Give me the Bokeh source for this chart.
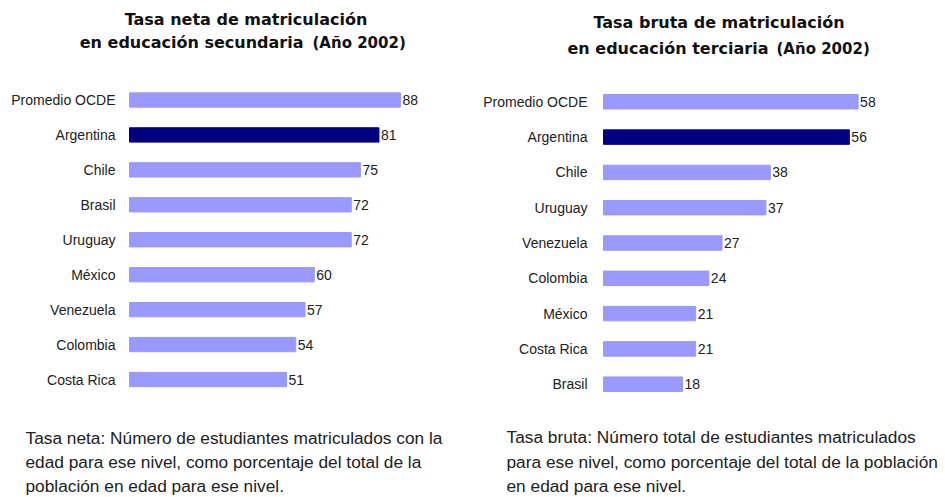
from bokeh.plotting import figure
from bokeh.models import Range1d, Label, ColumnDataSource
from bokeh.layouts import row
from bokeh.core.properties import value
from bokeh.embed import file_html
from bokeh.resources import INLINE

# ---- data ----
countries_sec = ["Promedio OCDE", "Argentina", "Chile", "Brasil", "Uruguay",
                 "México", "Venezuela", "Colombia", "Costa Rica"]
values_sec = [88, 81, 75, 72, 72, 60, 57, 54, 51]

countries_ter = ["Promedio OCDE", "Argentina", "Chile", "Uruguay", "Venezuela",
                 "Colombia", "México", "Costa Rica", "Brasil"]
values_ter = [58, 56, 38, 37, 27, 24, 21, 21, 18]

highlight = "Argentina"

title_sec = ["Tasa neta de matriculación", "en educación secundaria", "(Año 2002)"]
title_ter = ["Tasa bruta de matriculación", "en educación terciaria", "(Año 2002)"]

note_sec = ["Tasa neta: Número de estudiantes matriculados con la",
            "edad para ese nivel, como porcentaje del total de la",
            "población en edad para ese nivel."]
note_ter = ["Tasa bruta: Número total de estudiantes matriculados",
            "para ese nivel, como porcentaje del total de la población",
            "en edad para ese nivel."]

LIGHT = "#9999FF"
DARK = "#000080"
W1, W2, H = 465, 479, 497
MX, MY = 0, 0   # page offset of the figures


def make_panel(countries, values, page_x, W, bar_x0, px_per_unit, row0_y, row_sp,
               standoff, title, title_pos, note, note_pos):
    n = len(countries)
    colors = [DARK if c == highlight else LIGHT for c in countries]
    src = ColumnDataSource(dict(idx=list(range(n)), c=countries, v=values, col=colors,
                                lab=[str(v) for v in values]))
    bl = bar_x0 - page_x - MX
    r0 = row0_y - MY
    p = figure(width=W, height=H, output_backend="svg", toolbar_location=None,
               x_range=Range1d(-bl / px_per_unit, (W - bl) / px_per_unit),
               y_range=Range1d((H - r0) / row_sp, -r0 / row_sp),
               x_axis_location=None, y_axis_location=None,
               min_border=0)
    p.outline_line_color = None
    p.grid.visible = False
    p.background_fill_color = "white"
    p.border_fill_color = "white"
    p.hbar(y="idx", right="v", left=0, height=0.41, color="col", source=src)
    p.text(x="v", y="idx", text="lab", source=src, x_offset=2,
           text_baseline="middle", text_font_size="14px",
           text_font=value("Liberation Sans"), text_color="#222222")
    p.text(x=0, y="idx", text="c", source=src, x_offset=-standoff,
           text_align="right", text_baseline="middle", text_font_size="14px",
           text_font=value("Liberation Sans"), text_color="#222222")

    def to_units(px, py):
        return px - page_x - MX, H - (py - MY)

    (cx, y1), (r2, y2), (l3, _) = title_pos
    x, y = to_units(cx, y1)
    p.add_layout(Label(x=x, y=y, x_units="screen", y_units="screen", text=title[0],
                       text_align="center", text_baseline="middle",
                       text_font="DejaVu Sans", text_font_style="bold",
                       text_font_size="16px", text_color="#111111"))
    x, y = to_units(r2, y2)
    p.add_layout(Label(x=x, y=y, x_units="screen", y_units="screen", text=title[1],
                       text_align="right", text_baseline="middle",
                       text_font="DejaVu Sans", text_font_style="bold",
                       text_font_size="16px", text_color="#111111"))
    x, y = to_units(l3, y2 + 0.5)
    p.add_layout(Label(x=x, y=y, x_units="screen", y_units="screen", text=title[2],
                       text_align="left", text_baseline="middle",
                       text_font="DejaVu Sans", text_font_style="bold",
                       text_font_size="15px", text_color="#111111"))
    nx, ny0, dy = note_pos
    for i, line in enumerate(note):
        x, y = to_units(nx, ny0 + i * dy)
        p.add_layout(Label(x=x, y=y, x_units="screen", y_units="screen", text=line,
                           text_align="left", text_baseline="middle",
                           text_font="Liberation Sans", text_font_size="17.3px",
                           text_color="#222222"))
    return p


p1 = make_panel(countries_sec, values_sec, 0, W1, 129, 3.08, 99.5, 34.94, 14,
                title_sec, [(245.5, 19), (303, 42), (312, None)],
                note_sec, (25, 437, 24.3))
p2 = make_panel(countries_ter, values_ter, W1, W2, 603, 4.39, 101.3, 35.3, 16,
                title_ter, [(718.5, 22), (768, 47.5), (776, None)],
                note_ter, (506, 436.7, 24.4))

layout = row(p1, p2, spacing=0)
open("out.html", "w").write(file_html(layout, INLINE))
